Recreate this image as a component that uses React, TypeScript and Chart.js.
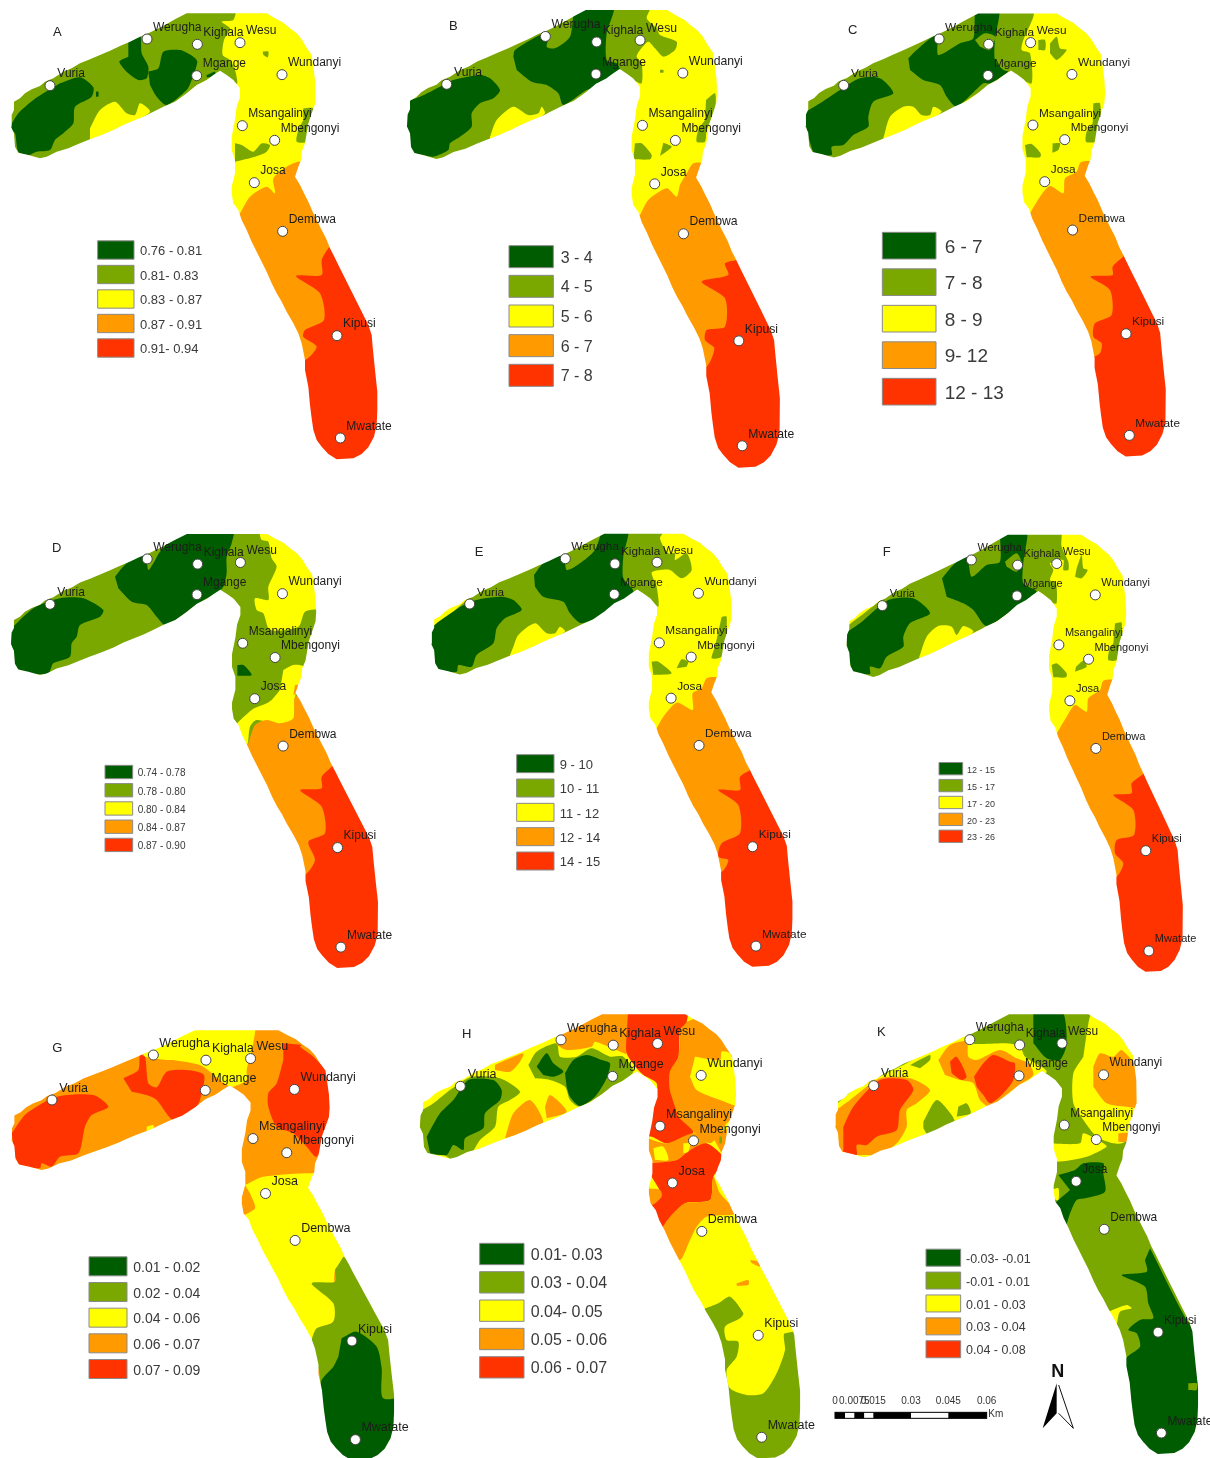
import React, { useEffect, useRef } from "react";
import { Chart, registerables } from "chart.js";

Chart.register(...registerables);

// Class colours of the five map classes
const classColours = ["#005c00", "#7aa800", "#ffff00", "#ff9a00", "#ff3300"];

// Study-area outline (crop units)
const outlineRef = [
  35,345,42,330,42,305,60,295,75,280,95,268,120,258,135,245,160,235,190,215,215,205,240,190,270,178,300,165,330,152,360,138,390,125,420,110,445,100,470,88,500,72,525,58,560,40,
  800,40,825,55,850,68,870,85,890,100,905,118,918,140,935,165,940,200,945,240,947,280,945,310,935,340,925,370,920,400,915,430,905,455,903,480,895,500,885,530,
  900,555,912,580,925,605,938,635,950,660,965,690,978,715,990,745,1003,770,1015,795,1030,825,1045,855,1060,885,1075,915,1090,945,1105,975,1115,1005,1118,1040,1122,1080,1125,1110,1132,1175,1132,1230,1130,1275,1122,1310,1105,1342,1085,1362,1060,1375,1010,1378,985,1362,965,1340,950,1320,940,1290,935,1255,930,1215,925,1160,915,1110,915,1080,905,1030,895,1000,880,970,860,935,845,905,830,880,815,850,800,815,785,785,770,755,755,725,740,690,725,660,715,630,700,610,695,580,695,560,705,520,705,480,695,450,695,410,705,360,710,320,720,290,720,265,700,240,680,225,660,212,640,225,620,240,590,255,560,280,525,305,490,320,460,335,430,350,400,362,370,375,340,390,305,405,270,418,240,430,205,445,170,455,140,470,120,475,85,465,55,458,45,440,42,400,33,380,
];

const townNames = ["Vuria","Werugha","Kighala","Wesu","Mgange","Wundanyi","Msangalinyi","Mbengonyi","Josa","Dembwa","Kipusi","Mwatate"];
const townX = [150,441,592,720,590,846,727,824,763,848,1011,1021];
const townY = [257,117,133,128,227,224,377,421,548,694,1007,1314];

const legendA = ["0.76 - 0.81","0.81- 0.83","0.83 - 0.87","0.87 - 0.91","0.91- 0.94"];
const legendB = ["3 - 4","4 - 5","5 - 6","6 - 7","7 - 8"];
const legendC = ["6 - 7","7 - 8","8 - 9","9- 12","12 - 13"];
const legendD = ["0.74 - 0.78","0.78 - 0.80","0.80 - 0.84","0.84 - 0.87","0.87 - 0.90"];
const legendE = ["9 - 10","10 - 11","11 - 12","12 - 14","14 - 15"];
const legendF = ["12 - 15","15 - 17","17 - 20","20 - 23","23 - 26"];
const legendG = ["0.01 - 0.02","0.02 - 0.04","0.04 - 0.06","0.06 - 0.07","0.07 - 0.09"];
const legendH = ["0.01- 0.03","0.03 - 0.04","0.04- 0.05","0.05 - 0.06","0.06 - 0.07"];
const legendK = ["-0.03- -0.01","-0.01 - 0.01","0.01 - 0.03","0.03 - 0.04","0.04 - 0.08"];

const southRed = [4,880,680,1300,680,1300,1500,800,1500,800,1000];
const zonesA = [
  [2,-60,-60,1300,-60,1300,1500,-60,1500],
  southRed,
  [3,720,640,750,590,800,560,825,580,820,535,860,500,895,485,920,490,960,620,1005,720,985,745,965,780,965,825,888,828,960,880,972,960,915,990,910,1010,950,1040,915,1080,890,1060,860,1000,650,680],
  [1,0,300,400,60,560,20,705,20,700,60,665,65,690,85,672,120,668,165,690,180,705,210,712,250,700,250,660,215,620,240,490,330,400,360,270,430,170,480,100,490,0,480],
  [0,180,250,240,232,280,262,275,290,225,320,220,370,190,400,165,420,150,450,110,455,85,465,55,455,45,400,30,385,55,340,100,300,130,280],
  [0,385,125,420,105,425,160,445,200,440,235,415,240,385,220,358,185,385,170],
  [0,445,215,475,205,490,155,540,150,580,170,592,185,575,240,560,270,500,315,470,290,450,255],
  [0,620,225,645,215,645,230,620,232],
  [0,288,275,295,275,295,290,288,290],
  [2,270,385,300,330,345,305,380,340,405,345,420,310,450,335,400,365,270,425],
  [1,788,155,805,155,803,172,790,165],
  [1,705,430,725,435,760,455,785,430,810,435,800,455,765,470,705,485],
  [1,910,325,940,325,940,360,925,385,920,425,890,425,895,390,910,360],
];
const zonesB = [
  [2,-60,-60,1300,-60,1300,1500,-60,1500],
  southRed,
  [3,720,645,745,600,800,565,830,590,840,555,860,520,880,490,910,490,920,510,975,640,1030,770,975,790,985,825,905,845,975,895,975,980,920,990,915,1020,943,1045,920,1100,880,1090,850,1000,650,680],
  [1,0,300,400,60,530,20,750,20,740,55,770,85,780,105,830,125,825,150,790,170,765,145,745,125,720,150,710,170,725,190,725,250,700,240,655,215,600,260,490,320,400,370,270,430,170,490,0,490],
  [0,0,310,60,290,120,260,160,240,240,225,270,235,300,270,280,295,240,310,215,340,215,380,180,410,150,430,145,450,100,470,70,465,35,455,15,400],
  [0,340,170,345,150,420,105,450,100,440,140,465,145,510,110,530,20,640,20,620,100,620,180,650,190,660,215,600,260,560,270,490,315,475,280,440,255,395,245,350,210],
  [2,270,410,290,360,340,320,385,345,415,340,425,320,435,340,400,365,270,425],
  [1,705,430,725,430,755,465,750,478,700,478],
  [1,790,428,815,440,780,468],
  [1,918,300,945,280,945,330,920,390,915,425,890,425,895,390,915,360],
  [1,780,210,790,210,790,218,780,218],
];
const zonesC = [
  [2,-60,-60,1300,-60,1300,1500,-60,1500],
  [4,850,680,1300,680,1300,1500,800,1500,800,1000],
  [3,690,640,720,590,750,558,790,580,795,535,830,515,842,487,880,487,900,560,960,690,985,750,938,800,938,825,872,830,930,870,935,945,885,970,880,1010,905,1030,900,1060,875,1070,830,960,620,680],
  [1,0,300,400,60,520,20,700,20,700,50,670,120,665,150,690,160,695,250,660,235,625,215,580,250,470,320,380,370,250,430,150,480,0,480],
  [1,715,120,735,120,735,150,715,150],
  [1,750,130,770,110,780,145,800,150,770,180,750,160],
  [0,10,340,60,310,120,270,180,235,240,235,280,280,220,305,205,350,205,380,160,405,130,435,95,440,95,465,45,462,25,410],
  [0,325,175,350,150,410,105,415,165,480,130,520,115,530,20,597,20,585,120,585,180,610,210,625,215,570,250,550,250,470,320,440,290,420,255,370,240,330,210],
  [1,525,120,555,100,585,110,570,150,540,140],
  [2,250,415,270,350,310,320,340,320,365,345,390,345,400,320,425,335,380,365,250,425],
  [1,675,435,695,432,722,460,720,472,680,472],
  [1,758,430,780,430,775,450,757,458],
  [1,880,310,900,310,900,380,885,425,858,425,860,395,878,370],
];
const zonesD = [
  [1,-60,-60,1300,-60,1300,1500,-60,1500],
  [2,775,20,785,60,805,65,815,115,830,140,805,200,805,240,765,235,770,270,790,280,810,330,895,320,915,275,960,268,1000,268,1000,20],
  [2,850,450,880,435,910,440,905,490,885,530,880,600,840,615,770,600,750,620,740,680,700,630,755,570,800,550,815,540,840,510],
  southRed,
  [3,745,670,765,615,800,600,840,610,880,595,885,530,920,540,965,630,1010,720,965,770,965,805,900,810,965,860,975,940,925,965,945,1020,915,1065,880,1060,850,960,680,690],
  [3,885,495,895,495,895,520,880,525],
  [0,30,330,100,265,180,235,250,235,310,270,300,290,240,315,230,350,215,370,210,410,160,430,145,460,85,460,40,440],
  [0,345,170,380,130,435,105,445,150,460,130,480,95,560,20,700,20,695,70,680,110,680,160,670,200,655,215,620,235,580,260,500,318,470,290,440,255,395,245,355,205],
  [0,712,435,730,435,755,465,712,467],
];
const zonesE = [
  [2,-60,-60,1300,-60,1300,1500,-60,1500],
  southRed,
  [3,740,625,760,590,800,548,848,570,848,520,875,505,890,475,925,475,945,560,1000,660,1040,735,990,770,990,810,925,810,985,855,990,940,935,970,925,1010,955,1020,935,1055,880,1040,840,960,670,660],
  [1,40,350,400,60,580,20,770,20,750,55,775,100,795,100,795,120,830,100,845,150,815,175,780,150,750,150,725,158,740,200,745,260,715,235,680,215,620,260,515,320,400,370,300,415,170,470,40,470],
  [0,55,330,100,295,180,245,270,230,310,240,335,270,285,295,260,325,250,370,200,405,185,440,145,435,140,455,80,450,60,380],
  [0,372,165,400,130,460,105,470,150,510,130,555,90,585,20,655,20,640,110,640,175,670,215,620,260,515,310,480,280,460,245,400,230,375,200],
  [2,300,405,310,380,325,345,375,310,410,340,435,340,450,320,465,335,400,370,300,412],
  [1,725,425,745,425,785,460,730,465],
  [1,800,445,815,418,835,425,830,440],
  [1,935,290,950,290,945,380,935,410,905,415,915,380],
];
const zonesF = [
  [2,-60,-60,1300,-60,1300,1500,-60,1500],
  [4,850,680,1300,680,1300,1500,800,1500,800,1000],
  [3,710,640,740,590,765,555,800,575,805,535,840,510,850,482,885,482,905,560,950,660,985,745,935,790,935,820,880,825,940,870,942,945,890,960,885,1000,910,1030,890,1070,860,1060,830,980,650,660],
  [1,40,350,430,60,560,20,720,20,725,80,745,125,745,150,730,150,730,120,690,130,700,150,690,180,708,190,710,250,700,250,655,215,610,250,500,320,400,365,300,420,170,475,60,480],
  [1,770,145,785,105,790,145,803,150,785,175,765,170],
  [0,75,340,120,310,205,240,280,235,330,280,270,310,250,350,250,380,200,410,180,445,150,440,150,462,100,455,85,400],
  [0,366,175,400,135,440,105,455,170,500,135,540,125,545,20,620,20,610,130,610,190,650,215,590,260,500,318,460,270,430,250,380,230],
  [1,555,125,590,100,605,130,590,155,560,140],
  [2,298,410,320,350,355,318,395,320,410,345,430,318,460,335,400,370,298,418],
  [1,695,435,710,430,740,460,738,472,700,472],
  [1,768,440,790,422,800,440,765,455],
  [1,885,310,905,308,900,380,890,420,865,420,868,390,880,370],
];
const zonesG = [
  [3,-60,-60,1300,-60,1300,1500,-60,1500],
  [2,430,60,760,60,760,130,740,210,740,240,700,260,680,255,630,215,600,195,520,180,500,180,430,170],
  [2,440,380,460,375,460,390,440,395],
  [4,35,400,80,340,170,290,280,285,325,320,275,345,255,380,235,460,180,470,155,500,125,490,120,505,60,495,45,470],
  [4,370,235,415,210,420,165,435,170,445,250,470,262,500,215,560,210,612,225,600,300,585,325,520,360,470,300,440,285,395,275],
  [4,850,130,905,135,900,140,940,170,1000,240,1000,360,950,470,920,440,880,400,830,380,805,320,805,280,830,250,850,180],
  [2,735,555,790,530,960,520,970,540,1060,760,1005,810,1005,955,935,1025,950,1080,900,1020,720,660,765,625,750,580],
  [1,1030,770,1300,900,1300,1500,900,1500,960,1140,950,1085,935,1025,950,985,1000,965,1000,910,935,850,1005,845,1005,810],
  [0,1025,1015,1070,995,1130,1040,1145,1105,1150,1195,1250,1195,1250,1500,900,1500,960,1190,965,1140,1000,1100,1015,1070],
];
const zonesH = [
  [2,-60,-60,1300,-60,1300,1500,-60,1500],
  [1,20,340,70,310,120,270,185,230,270,235,330,275,300,300,265,320,255,380,210,420,180,465,130,480,100,465,50,465,20,400],
  [0,50,410,90,340,130,300,175,240,250,240,275,270,270,300,225,340,220,385,165,415,160,450,130,435,110,465,60,460],
  [1,355,195,380,155,440,130,450,170,500,170,545,145,600,170,640,170,670,215,610,260,510,320,480,300,465,260,420,240,375,235],
  [0,380,200,410,160,430,190,460,215,430,230,400,225],
  [0,465,220,490,180,530,165,575,180,600,190,590,235,555,290,510,318,480,290,470,260],
  [3,445,105,580,20,650,20,650,160,620,150,555,125,545,140,470,150,440,135],
  [3,255,195,340,160,330,185,300,215,255,210],
  [3,285,415,310,340,360,300,400,370,340,400],
  [3,405,320,420,285,470,335,410,355],
  [3,830,65,880,50,930,100,990,160,1000,320,950,370,930,400,900,430,850,395,800,350,780,270,780,215,805,170,810,90],
  [2,855,170,930,180,935,155,960,160,1000,250,1000,320,930,300,860,270,840,230],
  [3,905,405,980,380,950,440,935,460],
  [1,928,410,935,410,935,430,928,430],
  [4,655,20,830,20,830,65,810,90,805,170,780,215,780,270,795,320,805,350,850,395,830,410,770,430,725,410,700,410,735,310,740,250,700,225,680,205,650,160,650,100],
  [3,700,410,770,430,850,400,890,430,840,450,800,480,725,490,700,470],
  [4,725,490,800,480,840,450,890,430,945,480,910,530,900,600,825,610,780,660,755,690,700,610,750,580,725,530],
  [3,700,565,750,570,755,590,725,615,700,600],
  [2,730,445,760,440,775,480,735,480],
  [2,820,430,840,430,835,455,820,460],
  [3,755,685,780,650,825,610,900,600,910,530,930,580,980,640,890,650,860,680,840,720,810,780,770,730],
  [1,860,935,925,910,960,890,1000,940,990,955,945,980,950,1020,985,1025,980,1070,950,1110,960,1165,1010,1185,1060,1180,1100,1120,1125,1050,1125,1000,1300,1000,1300,1500,900,1500,950,1200,930,1060,900,990],
  [3,1020,780,1045,785,1050,800,1025,790],
  [3,980,850,1015,840,1015,855,980,857],
];
const zonesK = [
  [1,-60,-60,1300,-60,1300,1500,-60,1500],
  [2,20,340,100,270,180,230,260,190,340,145,440,100,445,130,560,130,600,140,615,170,680,215,600,260,510,330,400,380,290,425,140,485,40,470],
  [1,270,195,330,165,330,180,300,205],
  [3,35,340,90,300,180,235,270,235,330,270,290,310,260,330,260,380,230,430,180,465,140,465,110,465,60,455,35,400],
  [4,70,380,100,320,180,240,260,240,280,270,240,330,230,390,170,410,140,435,110,435,110,465,70,455],
  [3,355,180,390,135,440,125,445,170,470,180,540,150,590,175,625,190,640,225,590,260,510,320,480,300,460,250,420,240,375,225],
  [4,390,185,410,170,440,230,425,240,395,220],
  [4,462,230,490,190,520,165,570,185,585,190,580,240,545,285,510,310,490,285,470,260],
  [1,310,365,350,300,395,345,405,375,325,405,310,385],
  [1,415,320,440,310,452,340,410,350],
  [0,640,30,725,30,740,130,720,180,680,175,640,130],
  [2,800,100,815,40,860,40,930,130,980,300,960,400,905,430,880,430,830,410,790,360,760,310,760,220,790,170],
  [3,820,200,840,160,880,170,905,150,960,220,960,320,920,320,860,310,820,260],
  [3,895,400,930,400,920,425,895,425],
  [2,680,430,780,430,790,400,850,430,860,440,800,470,710,485,680,470],
  [0,715,525,765,510,790,490,850,490,850,520,855,575,795,595,770,600,750,640,735,680,700,620,750,570],
  [2,695,570,715,565,715,600,695,595],
  [0,990,745,1100,960,1200,1100,1200,1500,850,1500,915,1080,960,1040,950,1000,925,990,960,960,1000,955,985,910,975,860,905,825,980,815,975,780],
  [2,865,935,920,915,935,925,900,935,890,975],
  [1,1105,1150,1130,1150,1130,1170,1105,1170],
];

// Scale bar and north arrow of panel K (crop units)
const scaleStops = [45,75,103,133,160,273,385,500];
const scaleTickAt = [45,103,160,273,385,500];
const scaleTicks = ["0","0.0075","0.015","0.03","0.045","0.06"];
const northLeft = [668,1285,710,1150,710,1240];
const northRight = [716,1155,760,1285,716,1240];

// Panel placement and legend layout
const panels = [
  { key:"A", rect:[0,0,400,480], v:[150,257], s:[1,1], letter:[172,98], zones:zonesA, legend:legendA, box:[293,402,750,73.5,55], lx:420, lf:13 },
  { key:"B", rect:[400,0,400,480], v:[140,253], s:[1.018,1.026], letter:[160,80], zones:zonesB, legend:legendB, box:[327,460,770,89,66], lx:482, lf:16 },
  { key:"C", rect:[800,0,410,480], v:[131,256], s:[0.984,0.9935], letter:[158,92], zones:zonesC, legend:legendC, box:[247,408,737,109.5,80], lx:434, lf:19 },
  { key:"D", rect:[0,520,400,460], v:[150,253], s:[1.002,0.973], letter:[170,84], zones:zonesD, legend:legendD, box:[315,398,756,54.7,40], lx:413, lf:10 },
  { key:"E", rect:[410,520,400,460], v:[179,252], s:[0.986,0.971], letter:[207,96], zones:zonesE, legend:legendE, box:[320,432,731,73,54], lx:449, lf:13 },
  { key:"F", rect:[820,520,390,460], v:[187,257], s:[0.918,0.98], letter:[200,98], zones:zonesF, legend:legendF, box:[357,428,746,50.7,37], lx:441, lf:9 },
  { key:"G", rect:[0,1000,410,458], v:[156,300], s:[1.045,0.964], letter:[172,146], zones:zonesG, legend:legendG, box:[267,381,799,77,57], lx:400, lf:14 },
  { key:"H", rect:[410,1000,410,458], v:[151,259], s:[1.038,0.996], letter:[170,104], zones:zonesH, legend:legendH, box:[209,342,762,85,64], lx:362, lf:16 },
  { key:"K", rect:[820,1000,390,458], v:[161,257], s:[0.991,0.986], letter:[184,96], zones:zonesK, legend:legendK, box:[318,422,773,68.7,51], lx:438, lf:12.5 },
];

const FONT = '"Liberation Sans", Arial, sans-serif';
const pairs = (a: number[]) => {
  const out: { x: number; y: number }[] = [];
  for (let i = 0; i + 1 < a.length; i += 2) out.push({ x: a[i], y: a[i + 1] });
  return out;
};
const polyStyle = { showLine: true, pointRadius: 0, pointHoverRadius: 0, borderWidth: 0, borderColor: "rgba(0,0,0,0)", tension: 0, fill: "shape" };

function buildDatasets(p: any) {
  const [, , W, H] = p.rect;
  const mapX = (x: number) => p.v[0] + p.s[0] * (x - 150);
  const mapY = (y: number) => p.v[1] + p.s[1] * (y - 257);
  const sets: any[] = p.zones.map((z: number[], i: number) => ({
    ...polyStyle,
    tension: i === 0 ? 0 : 0.25,
    backgroundColor: classColours[z[0]],
    data: pairs(z.slice(1)),
  }));
  // white sheet with a map-shaped hole: trims the zones to the study area
  const outline = pairs(outlineRef).map((q) => ({ x: mapX(q.x), y: mapY(q.y) }));
  const x0 = -30, x1 = W * 3 + 30, y0 = -30, y1 = H * 3 + 30;
  const slitY = outline[0].y;
  const sheet = [
    { x: x0, y: slitY }, { x: x0, y: y1 }, { x: x1, y: y1 }, { x: x1, y: y0 }, { x: x0, y: y0 }, { x: x0, y: slitY },
    ...outline, outline[0], { x: x0, y: slitY },
  ];
  sets.push({ ...polyStyle, backgroundColor: "#ffffff", data: sheet });
  if (p.key === "K") {
    sets.push({ ...polyStyle, backgroundColor: "#000000", data: pairs(northLeft) });
    sets.push({ ...polyStyle, backgroundColor: "#ffffff", borderColor: "#111111", borderWidth: 1, data: pairs(northRight) });
  }
  sets.push({
    showLine: false, pointRadius: 5, pointHoverRadius: 5, pointBackgroundColor: "#ffffff", pointBorderColor: "#444444", pointBorderWidth: 1,
    data: townX.map((x, i) => ({ x: mapX(x), y: mapY(townY[i]) })),
  });
  const n = sets.length;
  sets.forEach((s, i) => (s.order = n - i));
  return sets;
}

function makeNotes(p: any) {
  return {
    id: "notes",
    afterDatasetsDraw(chart: any) {
      const { ctx, scales } = chart;
      const X = (v: number) => scales.x.getPixelForValue(v);
      const Y = (v: number) => scales.y.getPixelForValue(v);
      ctx.save();
      ctx.textBaseline = "middle";
      ctx.textAlign = "left";
      // town labels
      ctx.fillStyle = "#1c1c1c";
      ctx.font = `${(12 * p.s[0]).toFixed(1)}px ${FONT}`;
      townNames.forEach((name, i) => {
        const zx = p.v[0] + p.s[0] * (townX[i] - 150);
        const zy = p.v[1] + p.s[1] * (townY[i] - 257);
        const off = i === 0 ? [22, -35] : [18, -35];
        ctx.fillText(name, X(zx + off[0]), Y(zy + off[1]));
      });
      // panel letter
      ctx.fillStyle = "#222222";
      ctx.font = `13px ${FONT}`;
      ctx.textAlign = "center";
      ctx.fillText(p.key, X(p.letter[0]), Y(p.letter[1]));
      ctx.textAlign = "left";
      // legend
      const [bx0, bx1, by, step, bh] = p.box;
      p.legend.forEach((label: string, i: number) => {
        const cy = by + i * step;
        ctx.fillStyle = classColours[i];
        ctx.strokeStyle = "#8a8a8a";
        ctx.lineWidth = 1;
        ctx.beginPath();
        ctx.rect(X(bx0), Y(cy - bh / 2), X(bx1) - X(bx0), Y(cy + bh / 2) - Y(cy - bh / 2));
        ctx.fill();
        ctx.stroke();
        ctx.fillStyle = "#3a3a3a";
        ctx.font = `${p.lf}px ${FONT}`;
        ctx.fillText(label, X(p.lx), Y(cy + 5));
      });
      if (p.key === "K") {
        // scale bar
        for (let i = 0; i + 1 < scaleStops.length; i++) {
          ctx.fillStyle = i % 2 === 0 ? "#000000" : "#ffffff";
          ctx.fillRect(X(scaleStops[i]), Y(1237), X(scaleStops[i + 1]) - X(scaleStops[i]), Y(1255) - Y(1237));
        }
        ctx.strokeStyle = "#000000";
        ctx.lineWidth = 1;
        ctx.strokeRect(X(45), Y(1237), X(500) - X(45), Y(1255) - Y(1237));
        ctx.fillStyle = "#333333";
        ctx.font = `10px ${FONT}`;
        ctx.textAlign = "center";
        scaleTicks.forEach((t, i) => ctx.fillText(t, X(scaleTickAt[i]), Y(1205)));
        ctx.textAlign = "left";
        ctx.fillText("Km", X(505), Y(1242));
        ctx.fillStyle = "#111111";
        ctx.font = `bold 18px ${FONT}`;
        ctx.textAlign = "center";
        ctx.fillText("N", X(713), Y(1115));
      }
      ctx.restore();
    },
  };
}

function MapPanel({ p }: { p: any }) {
  const ref = useRef<HTMLCanvasElement>(null);
  useEffect(() => {
    const [, , W, H] = p.rect;
    const chart = new Chart(ref.current as HTMLCanvasElement, {
      type: "line",
      data: { datasets: buildDatasets(p) },
      options: {
        animation: false,
        responsive: false,
        maintainAspectRatio: false,
        devicePixelRatio: 1,
        events: [],
        layout: { padding: 0, autoPadding: false },
        plugins: { legend: { display: false }, tooltip: { enabled: false }, title: { display: false } },
        scales: {
          x: { type: "linear", display: false, min: 0, max: W * 3 },
          y: { type: "linear", display: false, min: 0, max: H * 3, reverse: true },
        },
      },
      plugins: [makeNotes(p)],
    } as any);
    return () => chart.destroy();
  }, [p]);
  const [L, T, W, H] = p.rect;
  return <canvas ref={ref} width={W} height={H} style={{ position: "absolute", left: L, top: T, width: W, height: H, display: "block", filter: "blur(0.5px)" }} />;
}

export default function App() {
  return (
    <div style={{ position: "absolute", left: 0, top: 0, width: 1210, height: 1458, background: "#ffffff", overflow: "hidden" }}>
      {panels.map((p) => (
        <MapPanel key={p.key} p={p} />
      ))}
    </div>
  );
}
